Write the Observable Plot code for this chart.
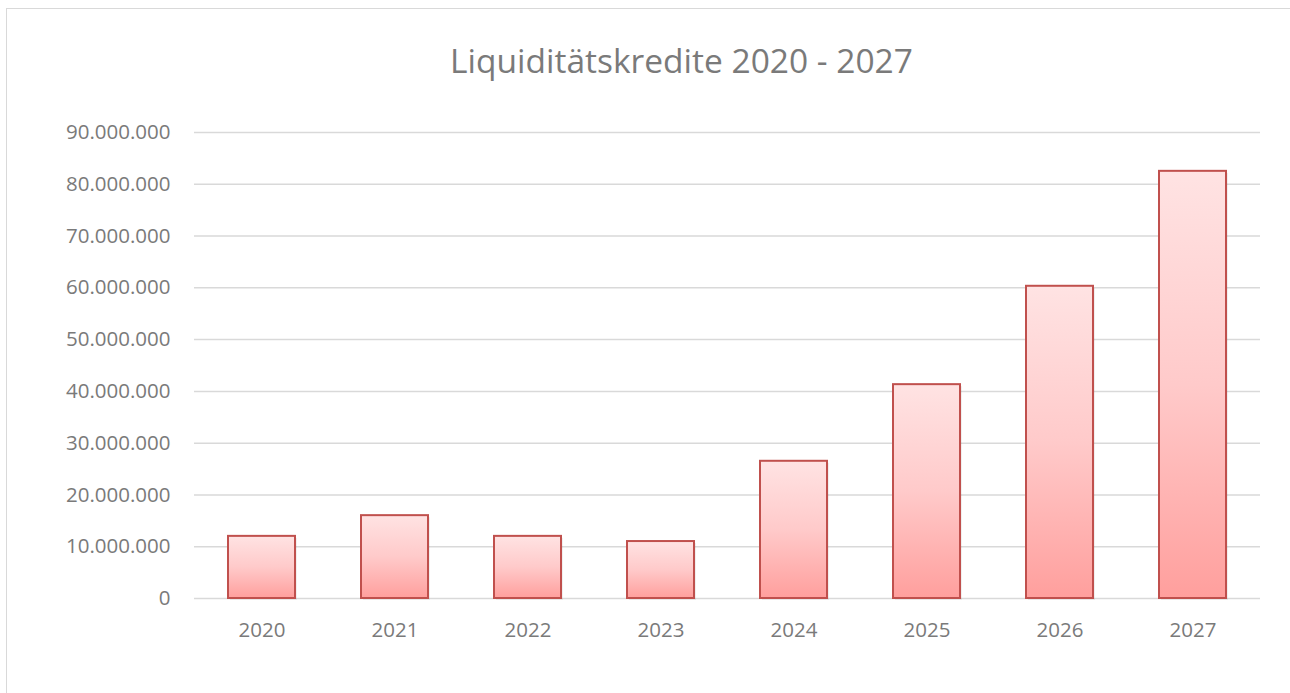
<!DOCTYPE html>
<html><head><meta charset="utf-8">
<script src="https://cdn.jsdelivr.net/npm/d3@7"></script>
<script src="https://cdn.jsdelivr.net/npm/@observablehq/plot@0.6"></script>
<style>
body{margin:0;background:#fff;}
#wrap{position:relative;width:1290px;height:693px;}
#border{position:absolute;left:6px;top:8px;width:1290px;height:690px;border:1px solid #d9d9d9;box-sizing:border-box;}
#chart{position:absolute;left:0;top:0;}
</style></head>
<body><div id="wrap"><div id="border"></div><div id="chart"></div></div>
<script>
const title = "Liquiditätskredite 2020 - 2027";
const years = ["2020","2021","2022","2023","2024","2025","2026","2027"];
const values = [12000000,16000000,12000000,11000000,26500000,41300000,60300000,82500000];
const yTicks = [0,10000000,20000000,30000000,40000000,50000000,60000000,70000000,80000000,90000000];

const data = years.map((y,i)=>({year:y,value:values[i]}));
const loc = d3.formatLocale({decimal:",",thousands:".",grouping:[3],currency:["","€"]});
const fmt = loc.format(",d");
const font = "'Open Sans', sans-serif";

const plot = Plot.plot({
  width:1290, height:693,
  marginLeft:194, marginRight:30, marginTop:132, marginBottom:95,
  style:{fontFamily:font, fontSize:"20.5px", color:"#7a7a7a", background:"transparent"},
  x:{domain:years, paddingInner:0.5, paddingOuter:0.25, label:null, tickSize:0, tickPadding:24},
  y:{domain:[0,90000000], ticks:yTicks, tickFormat:fmt, label:null, tickSize:0, tickPadding:24},
  marks:[
    Plot.gridY(yTicks,{stroke:"#d9d9d9", strokeOpacity:1, strokeWidth:1.5}),
    Plot.barY(data,{x:"year", y:"value", fill:"#000", fillOpacity:0.06, dx:2, dy:2}),
    Plot.barY(data,{x:"year", y:"value", fill:"url(#barGrad)", stroke:"#c0504d", strokeWidth:2}),
    Plot.text([title],{frameAnchor:"top", lineAnchor:"middle", dx:-46, dy:-70, fontSize:33.5, fill:"#7a7a7a", text:d=>d})
  ]
});
const svg = d3.select(plot);
const defs = svg.insert("defs",":first-child");
const g = defs.append("linearGradient").attr("id","barGrad").attr("x1",0).attr("y1",0).attr("x2",0).attr("y2",1);
g.append("stop").attr("offset","0%").attr("stop-color","#ffe3e3");
g.append("stop").attr("offset","50%").attr("stop-color","#ffcaca");
g.append("stop").attr("offset","100%").attr("stop-color","#ff9f9d");
document.getElementById("chart").append(plot);
</script></body></html>
